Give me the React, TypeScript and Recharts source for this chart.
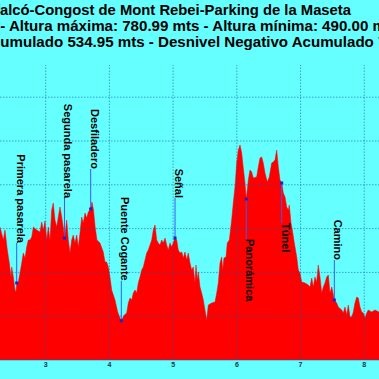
import React from "react";
import { ComposedChart, Area, XAxis, YAxis, ReferenceLine, Scatter } from "recharts";

const TITLE = "Montfalcó-Congost de Mont Rebei-Parking de la Maseta";
const SUB_PREFIX = "Distancia: 9.05 km ";
const SUB_TEXT = "- Altura máxima: 780.99 mts - Altura mínima: 490.00 mts";
const GAIN_PREFIX = "Desnivel Positivo Ac";
const GAIN_TEXT = "umulado 534.95 mts - Desnivel Negativo Acumulado 745.12 mts";

const KM = [
  2.2, 2.283, 2.335, 2.361, 2.398, 2.429, 2.456, 2.467, 2.492, 2.518, 2.534, 2.545, 2.57, 2.597, 2.624, 2.649,
  2.675, 2.702, 2.727, 2.754, 2.781, 2.806, 2.859, 2.911, 2.937, 2.963, 2.989, 3.016, 3.041, 3.068, 3.094,
  3.119, 3.146, 3.173, 3.198, 3.225, 3.251, 3.276, 3.295, 3.33, 3.355, 3.382, 3.408, 3.433, 3.46, 3.487,
  3.512, 3.539, 3.565, 3.59, 3.617, 3.644, 3.669, 3.706, 3.727, 3.75, 3.774, 3.805, 3.852, 3.904, 3.931,
  3.957, 3.983, 4.009, 4.036, 4.088, 4.13, 4.166, 4.187, 4.234, 4.271, 4.297, 4.323, 4.35, 4.375, 4.402,
  4.428, 4.453, 4.48, 4.507, 4.532, 4.559, 4.585, 4.61, 4.637, 4.664, 4.689, 4.716, 4.742, 4.767, 4.794,
  4.821, 4.846, 4.873, 4.899, 4.924, 4.951, 4.978, 5.03, 5.056, 5.081, 5.108, 5.135, 5.16, 5.186, 5.213,
  5.238, 5.265, 5.291, 5.316, 5.343, 5.359, 5.379, 5.395, 5.422, 5.448, 5.474, 5.5, 5.527, 5.552, 5.605,
  5.657, 5.684, 5.709, 5.736, 5.762, 5.778, 5.798, 5.83, 5.85, 5.882, 5.919, 5.944, 5.971, 5.998, 6.023,
  6.05, 6.076, 6.101, 6.128, 6.148, 6.18, 6.206, 6.233, 6.258, 6.311, 6.337, 6.363, 6.39, 6.415, 6.442,
  6.478, 6.509, 6.547, 6.572, 6.599, 6.625, 6.651, 6.677, 6.704, 6.729, 6.756, 6.783, 6.808, 6.823, 6.85,
  6.871, 6.902, 6.94, 6.965, 6.991, 7.018, 7.07, 7.122, 7.148, 7.175, 7.2, 7.226, 7.253, 7.278, 7.305,
  7.332, 7.357, 7.383, 7.41, 7.436, 7.462, 7.489, 7.509, 7.53, 7.567, 7.592, 7.646, 7.671, 7.697, 7.724,
  7.749, 7.776, 7.803, 7.828, 7.854, 7.881, 7.906, 7.933, 7.96, 7.985, 8.011, 8.038, 8.063, 8.116, 8.168,
  8.231, 8.33,
];

const ELEV = [
  650.0, 645.2, 623.6, 640.2, 607.1, 585.6, 562.4, 578.9, 562.4, 540.9, 537.6, 552.5, 554.1, 569.0, 585.6, 602.1,
  593.8, 612.0, 623.6, 623.6, 628.6, 645.2, 640.2, 636.9, 653.4, 640.2, 655.1, 623.6, 645.2, 623.6, 673.3,
  684.9, 656.7, 645.2, 661.7, 678.3, 661.7, 645.2, 626.9, 656.7, 623.6, 602.1, 623.6, 631.9, 618.7, 631.9,
  612.0, 635.2, 661.7, 651.8, 668.3, 660.1, 670.0, 675.0, 686.5, 673.3, 646.8, 623.6, 618.7, 603.8, 587.2,
  587.2, 578.9, 562.4, 540.9, 524.3, 504.5, 494.5, 490.0, 499.5, 502.8, 519.4, 527.6, 524.3, 535.9, 540.9,
  535.9, 552.5, 562.4, 574.0, 578.9, 590.5, 602.1, 607.1, 615.4, 623.6, 640.2, 648.5, 623.6, 618.7, 615.4,
  623.6, 618.7, 626.9, 615.4, 607.1, 618.7, 612.0, 626.9, 623.6, 607.1, 602.1, 603.8, 593.8, 603.8, 590.5,
  602.1, 585.6, 574.0, 578.9, 552.5, 582.3, 557.4, 570.7, 545.8, 535.9, 524.3, 507.8, 491.2, 516.0, 519.4,
  521.0, 535.9, 552.5, 585.6, 595.5, 574.0, 593.8, 595.5, 618.7, 623.6, 656.7, 684.9, 711.4, 751.1, 772.6,
  780.99, 767.6, 742.8, 718.0, 691.5, 723.0, 739.5, 736.2, 726.3, 727.9, 744.5, 759.4, 761.0, 751.1, 734.5,
  719.6, 727.9, 751.1, 752.7, 756.1, 772.6, 744.5, 723.0, 718.0, 701.4, 694.8, 678.3, 673.3, 681.6, 651.8,
  640.2, 618.7, 595.5, 574.0, 569.0, 554.1, 552.5, 549.1, 545.8, 560.7, 545.8, 562.4, 554.1, 582.3, 562.4,
  535.9, 545.8, 552.5, 562.4, 565.7, 535.9, 545.8, 535.9, 524.3, 519.4, 512.7, 507.8, 502.8, 512.7, 499.5,
  516.0, 496.2, 496.2, 504.5, 519.4, 529.3, 527.6, 512.7, 504.5, 502.8, 494.5, 502.8, 507.8, 504.5, 507.8,
  504.5, 505.0,
];

const POI_NAMES = ["Primera pasarela", "Segunda pasarela", "Desfiladero", "Puente Cogante", "Señal", "Panorámica", "Túnel", "Camino"];
const POI_KM = [2.545, 3.295, 3.706, 4.187, 5.03, 6.148, 6.704, 7.53];
const POI_ELEV = [552.5, 626.9, 675.0, 490.0, 626.9, 691.5, 718.0, 524.3];
const POI_SIDE = ["above", "above", "above", "above", "above", "below", "below", "above"];

const X_TICKS = [3, 4, 5, 6, 7, 8];
const Y_GRID = [497.5, 570, 642.5, 715, 787.5, 860];

const data = KM.map((km, i) => ({ km, elev: ELEV[i] }));
const poiData = POI_NAMES.map((name, i) => ({ name, km: POI_KM[i], elev: POI_ELEV[i], side: POI_SIDE[i] }));

const FONT = "'Liberation Sans', Arial, sans-serif";
const GRID = "#0a55b0";

function PoiMark(props: any) {
  const { cx, cy, payload } = props;
  if (cx == null || cy == null) return null;
  const above = payload.side === "above";
  const gap = 40;
  const ty = above ? cy - gap : cy + gap;
  return (
    <g>
      <line x1={cx} y1={cy} x2={cx} y2={ty} stroke="#3a5cf0" strokeWidth={1} />
      <rect x={cx - 1.5} y={cy - 1.5} width={3} height={3} fill="#2020c8" />
      <text
        transform={`translate(${cx},${ty}) rotate(90)`}
        textAnchor={above ? "end" : "start"}
        fontFamily={FONT}
        fontWeight="bold"
        fontSize={11}
        fill="#000"
      >
        {payload.name}
      </text>
    </g>
  );
}

export default function App() {
  return (
    <div style={{ position: "fixed", left: 0, top: 0, width: 379, height: 379, overflow: "hidden", background: "#66ffff" }}>
      <ComposedChart width={379} height={379} data={data} margin={{ top: 65, right: 0, bottom: 0, left: 0 }}>
        <XAxis
          type="number"
          dataKey="km"
          domain={[2.283, 8.231]}
          ticks={X_TICKS}
          allowDataOverflow
          height={19}
          tickSize={0}
          tickMargin={2}
          tickLine={false}
          axisLine={{ stroke: GRID, strokeOpacity: 0.5 }}
          tick={{ fontSize: 7, fontWeight: "bold", fill: "#123a4a", fontFamily: FONT }}
        />
        <YAxis type="number" hide domain={[425, 913.3]} allowDataOverflow />
        <Area
          type="linear"
          dataKey="elev"
          fill="#ff0000"
          fillOpacity={1}
          stroke="#ff0000"
          strokeWidth={0.5}
          baseValue={425}
          isAnimationActive={false}
          dot={false}
          activeDot={false}
        />
        {X_TICKS.map((t) => (
          <ReferenceLine key={"x" + t} x={t} stroke={GRID} strokeOpacity={0.55} strokeDasharray="1.5 1.5" />
        ))}
        {Y_GRID.map((t) => (
          <ReferenceLine key={"y" + t} y={t} stroke={GRID} strokeOpacity={0.55} strokeDasharray="1.5 1.5" />
        ))}
        <Scatter data={poiData} dataKey="elev" isAnimationActive={false} shape={(p: any) => <PoiMark {...p} />} />
      </ComposedChart>
      <svg width={379} height={60} style={{ position: "absolute", left: 0, top: 0 }}>
        <g fontFamily={FONT} fontWeight="bold" fill="#000">
          <text x={351} y={14.7} textAnchor="end" fontSize={14.8}>{TITLE}</text>
          <text y={30.7} fontSize={15.1}>
            <tspan x={0.3} textAnchor="end">{SUB_PREFIX}</tspan>
            <tspan x={0.3} textAnchor="start">{SUB_TEXT}</tspan>
          </text>
          <text y={46.7} fontSize={15.1}>
            <tspan x={0.3} textAnchor="end">{GAIN_PREFIX}</tspan>
            <tspan x={0.3} textAnchor="start">{GAIN_TEXT}</tspan>
          </text>
        </g>
      </svg>
    </div>
  );
}
